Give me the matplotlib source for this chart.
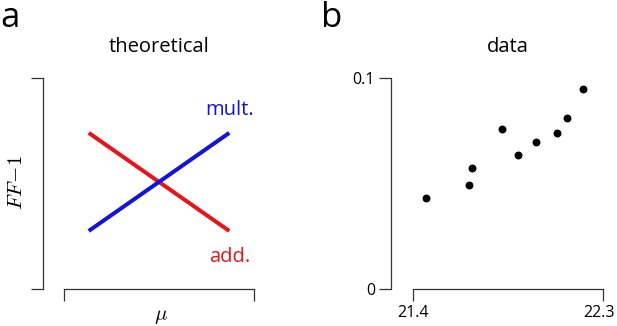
import numpy as np
import matplotlib
matplotlib.use("Agg")
import matplotlib.pyplot as plt
import matplotlib.transforms as mtransforms

plt.rcParams["font.family"] = ["Open Sans", "DejaVu Sans"]
plt.rcParams["mathtext.fontset"] = "cm"

# panel a: schematic lines
theory_x = [0.13, 0.87]
mult_y = [0.275, 0.74]
add_y = [0.74, 0.275]

# panel b: data
data_x = [21.462, 21.667, 21.681, 21.823, 21.896, 21.981, 22.081, 22.131, 22.207]
data_y = [0.0433, 0.0492, 0.0575, 0.0756, 0.0635, 0.0695, 0.0741, 0.0810, 0.0948]
xticks_b = [21.4, 22.3]
yticks_b = [0, 0.1]

W, H = 617, 326
fig = plt.figure(figsize=(W / 100, H / 100), dpi=100)

SPINE = "#333333"
RED = "#e8141c"
BLUE = "#1414d8"


def px_axes(left, right, top, bottom):
    return fig.add_axes([left / W, 1 - bottom / H, (right - left) / W, (bottom - top) / H])


def style(ax):
    for s in ["top", "right"]:
        ax.spines[s].set_visible(False)
    for s in ["left", "bottom"]:
        ax.spines[s].set_color(SPINE)
        ax.spines[s].set_linewidth(0.9)
    ax.tick_params(direction="out", length=8.5, width=0.9, color=SPINE,
                   labelsize=11.5, pad=3)


# --- panel a
ax1 = px_axes(43, 275, 78, 289)
style(ax1)
pad = 21 / 190
ax1.set_xlim(-pad, 1 + pad)
ax1.set_ylim(0, 1)
ax1.spines["bottom"].set_bounds(0, 1)
ax1.set_xticks([0, 1])
ax1.set_yticks([0, 1])
ax1.set_xticklabels([])
ax1.set_yticklabels([])
ax1.plot(theory_x, add_y, color=RED, lw=2.9, solid_capstyle="butt")
ax1.plot(theory_x, mult_y, color=BLUE, lw=2.9, solid_capstyle="butt")
ax1.text(1.0, 0.85, "mult.", color=BLUE, fontsize=14.5, ha="right", va="center")
ax1.text(0.98, 0.15, "add.", color=RED, fontsize=14.5, ha="right", va="center")
ax1.set_title("theoretical", fontsize=14.5, pad=19)

fig.text(17 / W, 1 - 183 / H, r"$FF\!-\!1$", rotation=90, fontsize=15,
         ha="center", va="center")
fig.text(161 / W, 1 - 316 / H, r"$\mu$", fontsize=15, ha="center", va="center")

# --- panel b
ax2 = px_axes(391, 625, 78, 289)
style(ax2)
step = 0.9 / 190
ax2.set_xlim(21.4 - 22 * step, 22.3 + 22 * step)
ax2.set_ylim(0, 0.1)
ax2.spines["bottom"].set_bounds(21.4, 22.3)
ax2.set_xticks(xticks_b)
ax2.set_xticklabels(["21.4", "22.3"])
ax2.set_yticks(yticks_b)
ax2.set_yticklabels(["0", "0.1"])
ax2.scatter(data_x, data_y, s=22, color="black", zorder=3, clip_on=False)
ax2.set_title("data", fontsize=14.5, pad=19)

# keep the right tick label inside the canvas
last = ax2.get_xticklabels()[-1]
last.set_transform(last.get_transform() +
                   mtransforms.ScaledTranslation(-4 / 100, 0, fig.dpi_scale_trans))

fig.text(0 / W, 1 - 27 / H, "a", fontsize=25, ha="left", va="baseline")
fig.text(321 / W, 1 - 27 / H, "b", fontsize=25, ha="left", va="baseline")

fig.savefig("out.png", dpi=100)
